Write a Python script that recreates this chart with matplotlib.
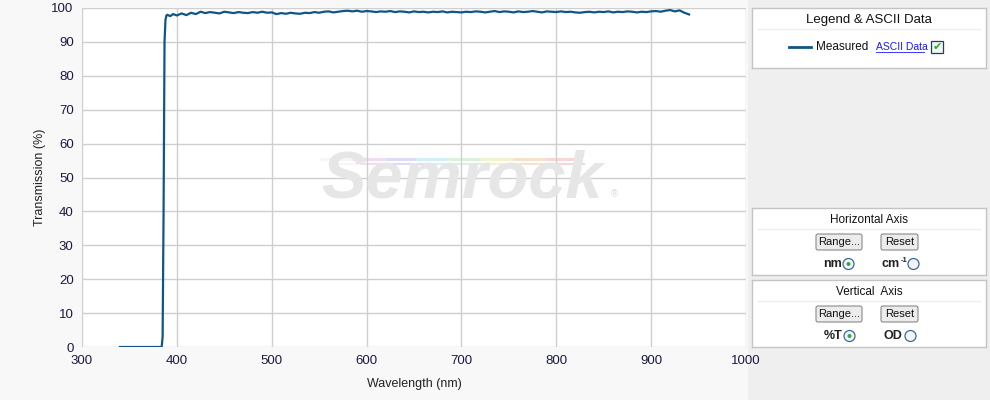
import matplotlib
matplotlib.use("Agg")
import matplotlib.pyplot as plt
from matplotlib.patches import Rectangle, Circle, FancyBboxPatch

plt.rcParams['font.family'] = ['Liberation Sans', 'DejaVu Sans']

# measured transmission spectrum
wavelength = [340, 384, 385, 386, 387, 388, 389, 390, 393, 396, 400, 405, 410, 415, 420,
              425, 430, 435, 440, 445, 450, 455, 460, 465, 470, 475, 480, 485, 490,
              495, 500, 505, 510, 515, 520, 525, 530, 535, 540, 545, 550, 555, 560,
              565, 570, 575, 580, 585, 590, 595, 600, 605, 610, 615, 620, 625, 630,
              635, 640, 645, 650, 655, 660, 665, 670, 675, 680, 685, 690, 695, 700,
              705, 710, 715, 720, 725, 730, 735, 740, 745, 750, 755, 760, 765, 770,
              775, 780, 785, 790, 795, 800, 805, 810, 815, 820, 825, 830, 835, 840,
              845, 850, 855, 860, 865, 870, 875, 880, 885, 890, 895, 900, 905, 910,
              915, 920, 925, 930, 935, 940]
transmission = [0.0, 0.0, 3.0, 40.0, 90.0, 96.5, 97.8, 98.0, 97.6, 98.2, 97.8, 98.4, 97.9, 98.6, 98.2,
                98.9, 98.5, 98.8, 98.6, 98.4, 98.9, 98.7, 98.5, 98.8, 98.6, 98.5, 98.8, 98.6, 98.9,
                98.6, 98.7, 98.2, 98.5, 98.3, 98.6, 98.4, 98.3, 98.6, 98.5, 98.8, 98.6, 98.9, 99.0,
                98.7, 98.9, 99.1, 99.2, 99.0, 99.2, 98.9, 99.1, 99.0, 98.8, 99.0, 98.9, 99.1, 98.8,
                99.0, 98.9, 98.7, 99.0, 98.8, 98.9, 98.7, 98.9, 98.8, 99.0, 98.7, 98.9, 98.8, 98.7,
                98.9, 98.8, 99.0, 98.9, 98.7, 98.9, 99.1, 98.8, 99.0, 98.9, 98.7, 99.0, 98.8, 98.9,
                99.1, 98.9, 98.7, 99.0, 98.9, 98.8, 99.0, 98.8, 98.9, 98.7, 98.6, 98.8, 98.9, 98.7,
                98.9, 98.8, 99.0, 98.7, 98.9, 98.8, 99.0, 98.9, 98.7, 98.9, 98.8, 99.0, 99.1, 98.9,
                99.2, 99.4, 99.0, 99.3, 98.6, 98.1]

x_ticks = [300, 400, 500, 600, 700, 800, 900, 1000]
y_ticks = [0, 10, 20, 30, 40, 50, 60, 70, 80, 90, 100]

# pastel streak colours above the watermark
streak_colors = ['#f6f6f6', '#f2dcf2', '#dcdcf8', '#d4eef8', '#d8f2dc', '#f2f2cc', '#f6e2cc', '#f6d6d6']

W, H = 990, 400
fig = plt.figure(figsize=(9.9, 4.0), dpi=100)
fig.patch.set_facecolor('#f8f8f8')

def box(x0, y0, x1, y1):
    # pixel coords (top-left origin) -> figure fraction
    return [x0 / W, 1 - y1 / H, (x1 - x0) / W, (y1 - y0) / H]

ax = fig.add_axes(box(82, 8, 746, 347))
ax.set_facecolor('white')
ax.plot(wavelength, transmission, color='#0f5686', lw=1.6, zorder=3)
ax.set_xlim(300, 1000)
ax.set_ylim(0, 100)
ax.set_xticks(x_ticks)
ax.set_yticks(y_ticks)
ax.grid(True, color='#cfcfcf', lw=1)
ax.set_axisbelow(True)
for s in ax.spines.values():
    s.set_visible(False)
ax.tick_params(length=0, labelsize=9.5, colors='#1a1a40', pad=6)
ax.set_xlabel('Wavelength (nm)', fontsize=9, color='#222222', labelpad=8)
ax.set_ylabel('Transmission (%)', fontsize=9, color='#222222', labelpad=4)

# watermark
seg = (0.745 - 0.358) / len(streak_colors)
for i, c in enumerate(streak_colors):
    ax.plot([0.358 + i * seg, 0.358 + (i + 1) * seg], [0.556, 0.556], transform=ax.transAxes,
            color=c, lw=2.2, zorder=0.5, solid_capstyle='butt')
    ax.plot([0.37 + i * seg, 0.37 + (i + 1) * seg], [0.541, 0.541], transform=ax.transAxes,
            color=c, lw=1.4, zorder=0.5, solid_capstyle='butt')
ax.text(0.572, 0.49, 'Semrock', transform=ax.transAxes, fontsize=48, fontweight='bold',
        style='italic', color='#e6e6e6', ha='center', va='center', zorder=1)
ax.text(0.802, 0.452, '®', transform=ax.transAxes, fontsize=7, color='#dddddd',
        ha='center', va='center', zorder=1)

# right hand panel background
fig.patches.append(Rectangle((748 / W, 0), 1, 1, transform=fig.transFigure,
                             facecolor='#efefef', edgecolor='none', zorder=-1))

def panel(y0, y1, title, fs=8.5):
    p = fig.add_axes(box(752, y0, 986, y1))
    p.set_xlim(752, 986)
    p.set_ylim(y1, y0)
    p.set_xticks([])
    p.set_yticks([])
    p.set_facecolor('white')
    for s in p.spines.values():
        s.set_color('#c4c4c4')
        s.set_linewidth(1)
    p.text(869, y0 + 12, title, ha='center', va='center', fontsize=fs, color='#111111')
    p.plot([758, 980], [y0 + 21, y0 + 21], color='#eeeeee', lw=1)
    return p

def button(p, xc, yc, w, label):
    p.add_patch(FancyBboxPatch((xc - w / 2, yc - 8), w, 16, boxstyle='round,pad=0,rounding_size=2',
                               facecolor='#ececec', edgecolor='#8a8a8a', lw=0.8))
    p.text(xc, yc, label, ha='center', va='center', fontsize=8, color='#111111')

def radio(p, xc, yc, on):
    p.add_patch(Circle((xc, yc), 5.5, facecolor='#f4f4f4', edgecolor='#3a6a9a', lw=0.9))
    if on:
        p.add_patch(Circle((xc, yc), 2, facecolor='#2fa84a', edgecolor='none'))

leg = panel(8, 68, 'Legend & ASCII Data', fs=9.5)
leg.plot([789, 811], [47, 47], color='#0f5686', lw=2)
leg.text(816, 47, 'Measured', ha='left', va='center', fontsize=8.5, color='#111111')
leg.text(876, 47, 'ASCII Data', ha='left', va='center', fontsize=7.5, color='#1a1aff')
leg.plot([876, 924], [52, 52], color='#1a1aff', lw=0.6)
leg.add_patch(Rectangle((931, 41), 12, 12, facecolor='#f2f8f2', edgecolor='#1f3f5f', lw=0.9))
leg.text(937, 47, '✔', ha='center', va='center', fontsize=8, color='#2ca02c',
         family='DejaVu Sans')

hor = panel(208, 275, 'Horizontal Axis')
button(hor, 839, 242, 46, 'Range...')
button(hor, 899.5, 242, 37, 'Reset')
hor.text(842, 264, 'nm', ha='right', va='center', fontsize=9, fontweight='bold', color='#222222')
radio(hor, 848.5, 264, True)
hor.text(900, 264, 'cm', ha='right', va='center', fontsize=9, fontweight='bold', color='#222222')
hor.text(900.5, 260.5, '-1', ha='left', va='center', fontsize=5.5, fontweight='bold', color='#222222')
radio(hor, 913.5, 264, False)

ver = panel(280, 347, 'Vertical  Axis')
button(ver, 839, 314, 46, 'Range...')
button(ver, 899.5, 314, 37, 'Reset')
ver.text(842, 336, '%T', ha='right', va='center', fontsize=9, fontweight='bold', color='#222222')
radio(ver, 849.5, 336, True)
ver.text(902, 336, 'OD', ha='right', va='center', fontsize=9, fontweight='bold', color='#222222')
radio(ver, 910.5, 336, False)

fig.savefig('out.png', dpi=100, facecolor=fig.get_facecolor())
